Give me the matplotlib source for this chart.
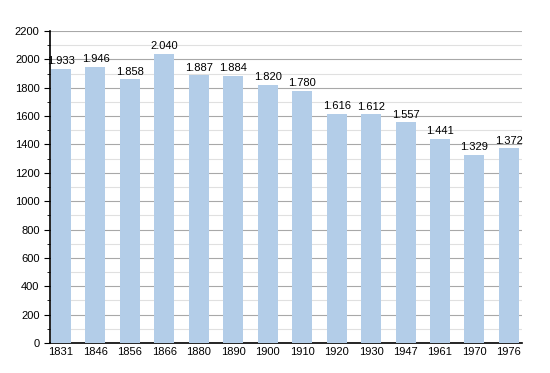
import numpy as np
import matplotlib
matplotlib.use('Agg')
import matplotlib.pyplot as plt
from matplotlib.ticker import MultipleLocator

years = ['1831', '1846', '1856', '1866', '1880', '1890', '1900', '1910', '1920', '1930', '1947', '1961', '1970', '1976']
population = [1933, 1946, 1858, 2040, 1887, 1884, 1820, 1780, 1616, 1612, 1557, 1441, 1329, 1372]

plt.rcParams['font.family'] = ['Liberation Sans', 'DejaVu Sans']

fig = plt.figure(figsize=(5.5, 3.73), dpi=100)
ax = fig.add_axes([0.0909, 0.0804, 0.8582, 0.8366])

x = np.arange(len(years))
ax.bar(x, population, width=0.58, color='#b3cde8', zorder=3)
for xi, v in zip(x, population):
    ax.text(xi, v + 18, '{:,}'.format(v).replace(',', '.'), ha='center', va='bottom', fontsize=8, zorder=4)

ax.set_xlim(-0.32, 13.38)
ax.set_ylim(0, 2200)
ax.set_xticks(x)
ax.set_xticklabels(years)
ax.yaxis.set_major_locator(MultipleLocator(200))
ax.yaxis.set_minor_locator(MultipleLocator(100))
ax.grid(axis='y', which='major', color='#a8a8a8', linewidth=0.8, zorder=0)
ax.grid(axis='y', which='minor', color='#e0e0e0', linewidth=0.8, zorder=0)
ax.tick_params(axis='x', length=0, labelsize=8, pad=3)
ax.tick_params(axis='y', which='major', length=4, labelsize=8)
ax.tick_params(axis='y', which='minor', length=2)
for s in ['top', 'right']:
    ax.spines[s].set_visible(False)
ax.spines['left'].set_linewidth(1.2)
ax.spines['bottom'].set_linewidth(1.2)

plt.savefig('out.png', dpi=100)
